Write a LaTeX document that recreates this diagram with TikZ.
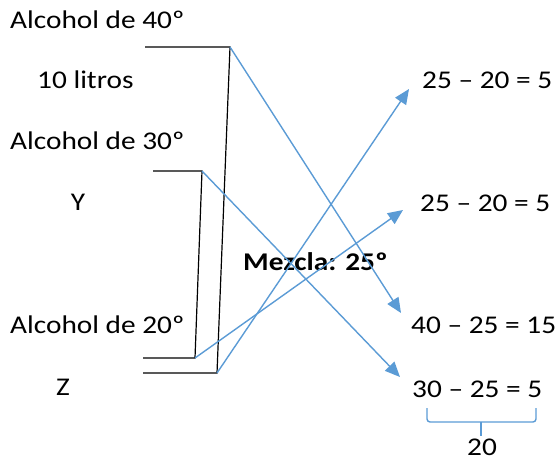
\documentclass[tikz,border=0pt]{standalone}
\usepackage{fontspec}
\setmainfont{Carlito}[FakeStretch=1.15]
\usetikzlibrary{arrows.meta}
\definecolor{lblue}{RGB}{91,155,213}
\begin{document}
\begin{tikzpicture}[x=1pt,y=-1pt,
  lbl/.style={inner sep=0pt, anchor=base west, font=\fontsize{25.5}{30}\selectfont},
  bk/.style={black, line width=1.2pt},
  bl/.style={lblue, line width=1.4pt},
  arr/.style={bl, -{Triangle[length=15pt,width=13pt]}}]
\useasboundingbox (0,0) rectangle (558,461);
% texts
\node[lbl] (a40) at (10,28) {Alcohol de 40º};
\node[lbl] (ten) at (37,88) {10 litros};
\node[lbl] (a30) at (10,149) {Alcohol de 30º};
\node[lbl, anchor=base] (y) at (78,210) {Y};
\node[lbl] (a20) at (10,333) {Alcohol de 20º};
\node[lbl, anchor=base] (z) at (63,395) {Z};
\node[lbl] (r1) at (422,88) {25 – 20 = 5};
\node[lbl] (r2) at (420,211) {25 – 20 = 5};
\node[lbl] (r3) at (411,333) {40 – 25 = 15};
\node[lbl] (r4) at (412,397) {30 – 25 = 5};
\node[lbl, font=\fontsize{25.5}{30}\selectfont\bfseries] (mez) at (243,270) {Mezcla: 25º};
\node[lbl, anchor=base] (tw) at (482,455) {20};
% corner points
\coordinate (p1s) at (145,47);
\coordinate (p1c) at (230,47);
\coordinate (p1b) at (217,373);
\coordinate (p1e) at (143,373);
\coordinate (p2s) at (153,171);
\coordinate (p2c) at (202,171);
\coordinate (p2b) at (195,358);
\coordinate (p2e) at (143,358);
% arrow tips
\coordinate (t1) at (409,89);
\coordinate (t2) at (403,210);
\coordinate (t3) at (401,313);
\coordinate (t4) at (400,377);
% black brackets
\draw[bk] (p1s) -- (p1c) -- (p1b) -- (p1e);
\draw[bk] (p2s) -- (p2c) -- (p2b) -- (p2e);
% blue arrows
\draw[arr] (p1c) -- (t3);
\draw[arr] (p2c) -- (t4);
\draw[arr] (p2b) -- (t2);
\draw[arr] (p1b) -- (t1);
% brace
\coordinate (bl) at (427,408);
\coordinate (br) at (536,408);
\coordinate (bm) at (481,422);
\draw[bl, rounded corners=3pt] (bl) -- (427,422) -- (536,422) -- (br);
\draw[bl] (bm) -- (481,436);
\end{tikzpicture}
\end{document}
